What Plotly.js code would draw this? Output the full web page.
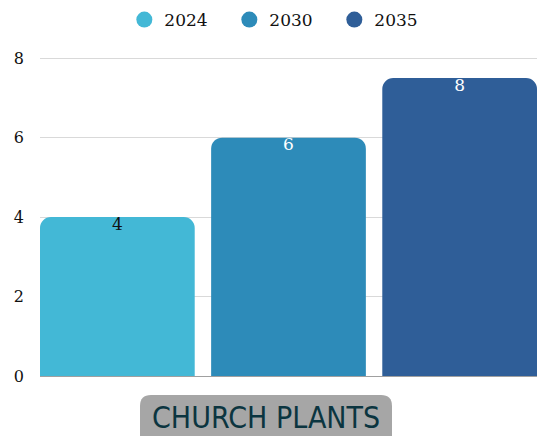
<!DOCTYPE html>
<html>
<head>
<meta charset="utf-8">
<script src="https://cdn.plot.ly/plotly-3.0.1.min.js"></script>
<style>html,body{margin:0;padding:0;background:#fff;}#chart{width:542px;height:436px;}</style>
</head>
<body>
<div id="chart"></div>
<script>
const years = ['2024', '2030', '2035'];
const values = [4, 6, 7.5];
const labels = ['4', '6', '8'];
const positions = [0, 1, 2];
const colors = ['#43b8d6', '#2d8bb9', '#2f5e98'];
const labelColors = ['#111111', '#ffffff', '#ffffff'];
const yTicks = [0, 2, 4, 6, 8];
const axisTitle = 'CHURCH PLANTS';

const serif = 'DejaVu Serif, serif';
const traces = [];
years.forEach((yr, i) => {
  traces.push({
    type: 'bar', name: yr, x: [positions[i]], y: [values[i]], width: 0.904,
    marker: {color: colors[i]}, showlegend: false, hoverinfo: 'skip'
  });
});
years.forEach((yr, i) => {
  traces.push({
    type: 'scatter', mode: 'text', x: [positions[i]], y: [values[i]], text: [labels[i]],
    textposition: 'bottom center', textfont: {family: serif, size: 17, color: labelColors[i]},
    showlegend: false, hoverinfo: 'skip'
  });
});
years.forEach((yr, i) => {
  traces.push({
    type: 'scatter', mode: 'markers', name: yr, x: [null], y: [null],
    marker: {color: colors[i], size: 20, symbol: 'circle'}, showlegend: true
  });
});

// rounded box behind the axis title (pixel -> paper conversion)
const L = 40, R = 537, T = 57, B = 376;
const yMax = 8.03;
const px = v => (v - L) / (R - L);
const py = v => (B - v) / (B - T);
const x0 = 140, x1 = 392, y0 = 395, y1 = 450, r = 11;
const path = `M ${px(x0)},${py(y1)} L ${px(x0)},${py(y0 + r)} Q ${px(x0)},${py(y0)} ${px(x0 + r)},${py(y0)} ` +
  `L ${px(x1 - r)},${py(y0)} Q ${px(x1)},${py(y0)} ${px(x1)},${py(y0 + r)} L ${px(x1)},${py(y1)} Z`;

const layout = {
  width: 542, height: 436,
  margin: {l: L, r: 542 - R, t: T, b: 436 - B, autoexpand: false},
  paper_bgcolor: '#ffffff', plot_bgcolor: '#ffffff',
  barmode: 'overlay', barcornerradius: 11,
  showlegend: true,
  legend: {orientation: 'h', xref: 'container', yref: 'container', x: 0.52, xanchor: 'center',
    y: 1 - 20 / 436, yanchor: 'middle',
    font: {family: serif, size: 17, color: '#111'}, entrywidth: 60, itemclick: false},
  xaxis: {range: [-0.452, 2.452], showticklabels: false, showgrid: false, zeroline: false,
    showline: false, fixedrange: true},
  yaxis: {range: [0, yMax], tickvals: yTicks, ticktext: yTicks.map(String),
    tickfont: {family: serif, size: 16, color: '#111'}, gridcolor: '#d9d9d9', gridwidth: 1,
    zeroline: true, zerolinecolor: '#a0a0a0', zerolinewidth: 1, showline: false, ticks: '',
    ticklabelstandoff: 15},
  shapes: [{type: 'path', xref: 'paper', yref: 'paper', path: path,
    fillcolor: '#a6a6a6', line: {width: 0}, layer: 'below'}],
  annotations: [{xref: 'paper', yref: 'paper', x: px((x0 + x1) / 2), y: py(417),
    text: axisTitle, showarrow: false, xanchor: 'center', yanchor: 'middle',
    font: {family: 'DejaVu Sans Condensed, Roboto, sans-serif', size: 30, color: '#0b3540'}}]
};
Plotly.newPlot('chart', traces, layout, {displayModeBar: false, staticPlot: true});
</script>
</body>
</html>
